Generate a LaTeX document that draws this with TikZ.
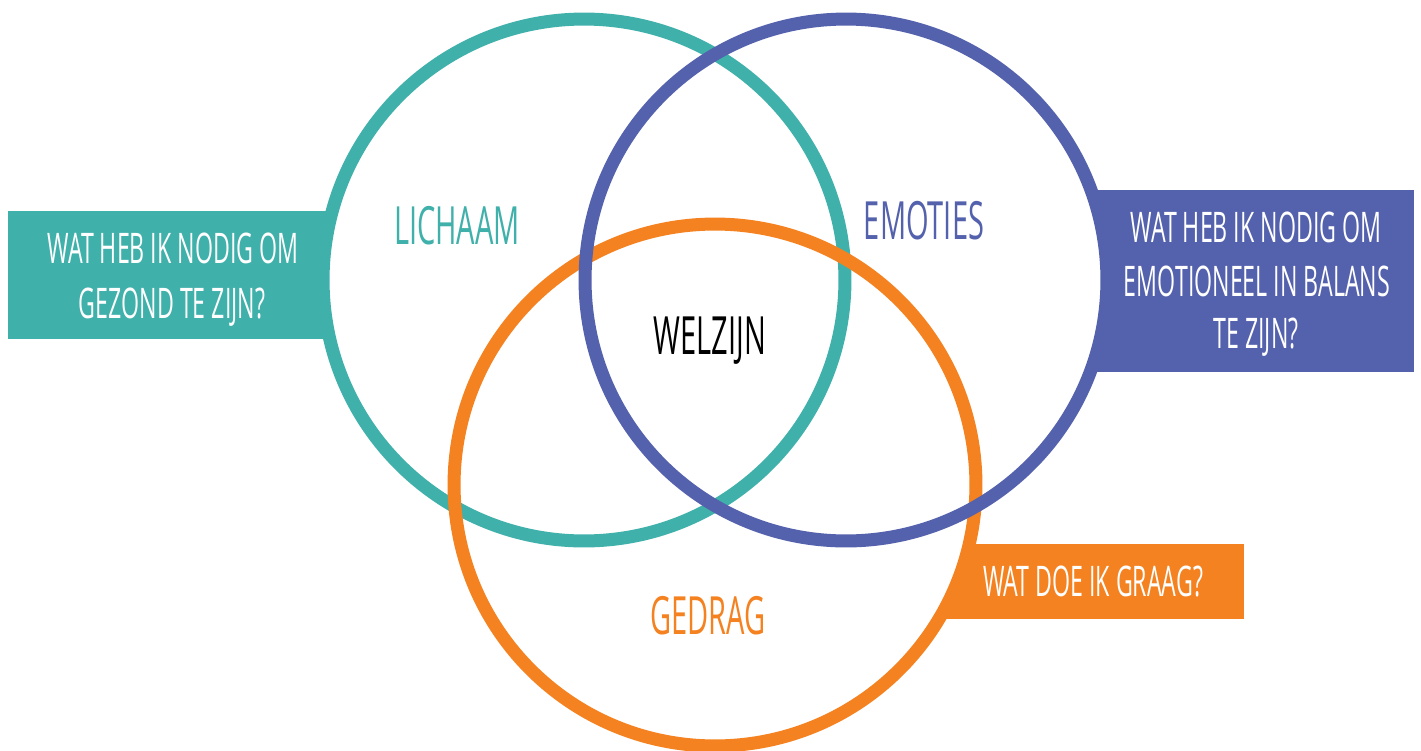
\documentclass[tikz,border=0pt]{standalone}
\usepackage{fontspec}
\newfontfamily\hand[FakeStretch=0.55]{Open Sans}
\definecolor{tealc}{HTML}{40B0AB}
\definecolor{bluec}{HTML}{5461AC}
\definecolor{orangec}{HTML}{F58220}
\begin{document}
\begin{tikzpicture}[x=0.02cm,y=-0.02cm,
  ring/.style={line width=0.26cm},
  boxtxt/.style={anchor=base,inner sep=0pt,text=white,font=\hand\fontsize{24}{30}\selectfont},
  lbl/.style={anchor=base,inner sep=0pt,font=\hand\fontsize{30}{36}\selectfont}]
\useasboundingbox (0,0) rectangle (1421,751);
% side boxes
\fill[tealc] (8,211) rectangle (420,339);
\fill[bluec] (1000,190) rectangle (1414,372);
\fill[orangec] (900,544) rectangle (1244,619);
% circles
\coordinate (cT) at (584,280);
\coordinate (cB) at (846,280);
\coordinate (cO) at (715,485);
\fill[white] (cT) circle[radius=5.22cm];
\fill[white] (cB) circle[radius=5.22cm];
\fill[white] (cO) circle[radius=5.22cm];
\draw[ring,tealc] (cT) circle[radius=5.22cm];
\draw[ring,orangec] (cO) circle[radius=5.22cm];
\draw[ring,bluec] (cB) circle[radius=5.22cm];
% box texts
\node[boxtxt] (t1) at (173,263) {WAT HEB IK NODIG OM};
\node[boxtxt] (t2) at (172,318) {GEZOND TE ZIJN?};
\node[boxtxt] (b1) at (1256,242) {WAT HEB IK NODIG OM};
\node[boxtxt] (b2) at (1257,296) {EMOTIONEEL IN BALANS};
\node[boxtxt] (b3) at (1256,348) {TE ZIJN?};
\node[boxtxt] (o1) at (1093,596) {WAT DOE IK GRAAG?};
% circle labels
\node[lbl,text=tealc] (lich) at (457,244) {LICHAAM};
\node[lbl,text=bluec] (emo) at (924,239) {EMOTIES};
\node[lbl,text=black] (wel) at (710,354) {WELZIJN};
\node[lbl,text=orangec] (ged) at (708,634) {GEDRAG};
\end{tikzpicture}
\end{document}
